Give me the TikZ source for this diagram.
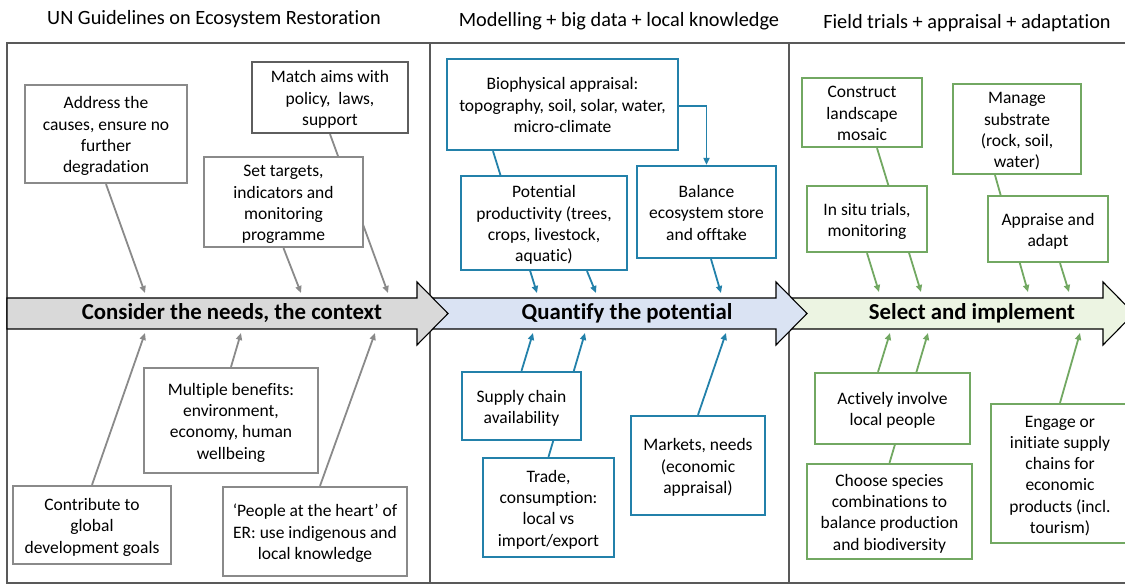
\documentclass[tikz,border=0pt]{standalone}
\usepackage{fontspec}
\setmainfont{Carlito}[Ligatures={NoCommon}]
\usetikzlibrary{arrows.meta}
\pgfdeclarelayer{frame}
\pgfdeclarelayer{links}
\pgfsetlayers{frame,links,main}

\definecolor{framegray}{HTML}{595959}
\definecolor{boxgray}{HTML}{8A8A8A}
\definecolor{boxdark}{HTML}{5E5E5E}
\definecolor{boxblue}{HTML}{2381AA}
\definecolor{boxgreen}{HTML}{72A862}
\definecolor{fillgray}{HTML}{D9D9D9}
\definecolor{fillblue}{HTML}{DAE3F3}
\definecolor{fillgreen}{HTML}{ECF4E2}

% centred lines of card text, set a little low within the card
\newcommand{\cardlines}[1]{\raisebox{-2.5pt}[\height][\depth]{\begin{tabular}{@{}c@{}}#1\end{tabular}}}

\tikzset{
  card/.style={draw, fill=white, line width=2.2pt, inner sep=0pt,
    font=\fontsize{17.5}{21.3}\selectfont},
  gcard/.style={card, draw=boxgray},
  bcard/.style={card, draw=boxblue},
  ecard/.style={card, draw=boxgreen},
  link/.style={line width=1.8pt, -{Triangle[length=7pt,width=6pt]}},
  glink/.style={link, draw=boxgray},
  blink/.style={link, draw=boxblue},
  elink/.style={link, draw=boxgreen},
  stage/.style={draw=black, line width=1.1pt, line join=miter},
  stagelabel/.style={font=\fontsize{22.8}{26}\selectfont\bfseries, inner sep=0pt},
  heading/.style={font=\fontsize{20.3}{24}\selectfont, inner sep=0pt},
}

\begin{document}
\begin{tikzpicture}[x=1pt, y=-1pt]
\useasboundingbox (0,0) rectangle (1125,585);

% panel frame and the three stage arrows
\begin{pgfonlayer}{frame}
  \clip (0,0) rectangle (1125,585);
  \draw[framegray, line width=2.6pt] (1130,43) -- (7,43) -- (7,583) -- (1130,583);
  \draw[framegray, line width=2.6pt] (430,43) -- (430,583);
  \draw[framegray, line width=2.6pt] (789,43) -- (789,583);
  \draw[stage, fill=fillgreen] (789,298) -- (1103,298) -- (1103,282) -- (1134,313.5)
      -- (1103,345) -- (1103,329) -- (789,329) -- cycle;
  \draw[stage, fill=fillblue] (430,298) -- (776,298) -- (776,282) -- (807,313.5)
      -- (776,345) -- (776,329) -- (430,329) -- cycle;
  \draw[stage, fill=fillgray] (7,298) -- (417,298) -- (417,282) -- (448,313.5)
      -- (417,345) -- (417,329) -- (7,329) -- cycle;
\end{pgfonlayer}

\node[stagelabel] (s1) at (232,313) {Consider the needs, the context};
\node[stagelabel] (s2) at (627,313) {Quantify the potential};
\node[stagelabel] (s3) at (972,313) {Select and implement};

% column headings
\node[heading] (h1) at (214,19) {UN Guidelines on Ecosystem Restoration};
\node[heading] (h2) at (619,21) {Modelling + big data + local knowledge};
\node[heading] (h3) at (967,23) {Field trials + appraisal + adaptation};

% end points on the stage arrows
\coordinate (p1a) at (145,293);
\coordinate (p1b) at (301,293);
\coordinate (p1c) at (388,293);
\coordinate (q1a) at (145,333);
\coordinate (q1b) at (241,333);
\coordinate (q1c) at (375,333);
\coordinate (p2a) at (537,293);
\coordinate (p2b) at (596,293);
\coordinate (p2c) at (721,293);
\coordinate (q2a) at (533,333);
\coordinate (q2b) at (585,333);
\coordinate (q2c) at (726,333);
\coordinate (p3a) at (879,292);
\coordinate (p3b) at (921,292);
\coordinate (p3c) at (1028,292);
\coordinate (p3d) at (1069,292);
\coordinate (q3a) at (890,333);
\coordinate (q3b) at (928,333);
\coordinate (q3c) at (1080,333);

% column 1
\node[gcard, minimum width=162pt, minimum height=98pt] (addr) at (106,134)
  {\cardlines{Address the\\causes, ensure no\\further\\degradation}};
\node[card, draw=boxdark, minimum width=156pt, minimum height=71pt] (match) at (330,97.5)
  {\cardlines{Match aims with\\policy,\ \ laws,\\support}};
\node[gcard, minimum width=159pt, minimum height=90pt] (targ) at (283.5,202)
  {\cardlines{Set targets,\\indicators and\\monitoring\\programme}};
\node[gcard, minimum width=174pt, minimum height=105pt] (multi) at (231,420.5)
  {\cardlines{Multiple benefits:\\environment,\\economy, human\\wellbeing}};
\node[gcard, minimum width=158pt, minimum height=78pt] (contrib) at (92,525)
  {\cardlines{Contribute to\\global\\development goals}};
\node[gcard, minimum width=184pt, minimum height=89pt] (people) at (315,531.5)
  {\cardlines{‘People at the heart’ of\\ER: use indigenous and\\local knowledge}};

% column 2
\node[bcard, minimum width=231pt, minimum height=91pt] (bio) at (562.5,104.5)
  {\cardlines{Biophysical appraisal:\\topography, soil, solar, water,\\micro-climate}};
\node[bcard, minimum width=166pt, minimum height=94pt] (pot) at (544,223)
  {\cardlines{Potential\\productivity (trees,\\crops, livestock,\\aquatic)}};
\node[bcard, minimum width=139pt, minimum height=92pt] (bal) at (706.5,212)
  {\cardlines{Balance\\ecosystem store\\and offtake}};
\node[bcard, minimum width=119pt, minimum height=68pt] (supply) at (521.5,406)
  {\cardlines{Supply chain\\availability}};
\node[bcard, minimum width=131pt, minimum height=99pt] (trade) at (548.5,507.5)
  {\cardlines{Trade,\\consumption:\\local vs\\import/export}};
\node[bcard, minimum width=134pt, minimum height=99pt] (market) at (698,465.5)
  {\cardlines{Markets, needs\\(economic\\appraisal)}};

% column 3
\node[ecard, minimum width=120pt, minimum height=69pt] (constr) at (862,112.5)
  {\cardlines{Construct\\landscape\\mosaic}};
\node[ecard, minimum width=120pt, minimum height=66pt] (insitu) at (867,219)
  {\cardlines{In situ trials,\\monitoring}};
\node[ecard, minimum width=128pt, minimum height=90pt] (subst) at (1017,129)
  {\cardlines{Manage\\substrate\\(rock, soil,\\water)}};
\node[ecard, minimum width=120pt, minimum height=66pt] (adapt) at (1048,229)
  {\cardlines{Appraise and\\adapt}};
\node[ecard, minimum width=155pt, minimum height=71pt] (involve) at (892.5,408.5)
  {\cardlines{Actively involve\\local people}};
\node[ecard, minimum width=165pt, minimum height=95pt] (species) at (889.5,511.5)
  {\cardlines{Choose species\\combinations to\\balance production\\and biodiversity}};
\node[ecard, minimum width=138pt, minimum height=139pt] (engage) at (1060,473.5)
  {\cardlines{Engage or\\initiate supply\\chains for\\economic\\products (incl.\\tourism)}};

% connectors, passing behind the cards they cross
\begin{pgfonlayer}{links}
  \draw[glink] (addr.south) -- (p1a);
  \draw[glink] (targ.south) -- (p1b);
  \draw[glink] (match.south) -- (p1c);
  \draw[glink] (contrib.north) -- (q1a);
  \draw[glink] (multi.north) -- (q1b);
  \draw[glink] ([xshift=5pt]people.north) -- (q1c);

  \draw[blink] ([xshift=-69.5pt]bio.south) -- (p2a);
  \draw[blink] ([xshift=43pt]pot.south) -- (p2b);
  \draw[blink] ([yshift=-1.5pt]bio.east) -| (bal.north);
  \draw[blink] ([xshift=4.5pt]bal.south) -- (p2c);
  \draw[blink] (supply.north) -- (q2a);
  \draw[blink] (trade.north) -- (q2b);
  \draw[blink] (market.north) -- (q2c);

  \draw[elink] (insitu.south) -- (p3a);
  \draw[elink] ([xshift=15pt]constr.south) -- (p3b);
  \draw[elink] ([xshift=-22pt]subst.south) -- (p3c);
  \draw[elink] ([xshift=12pt]adapt.south) -- (p3d);
  \draw[elink] ([xshift=-14.5pt]involve.north) -- (q3a);
  \draw[elink] (species.north) -- (q3b);
  \draw[elink] (engage.north) -- (q3c);
\end{pgfonlayer}
\end{tikzpicture}
\end{document}
